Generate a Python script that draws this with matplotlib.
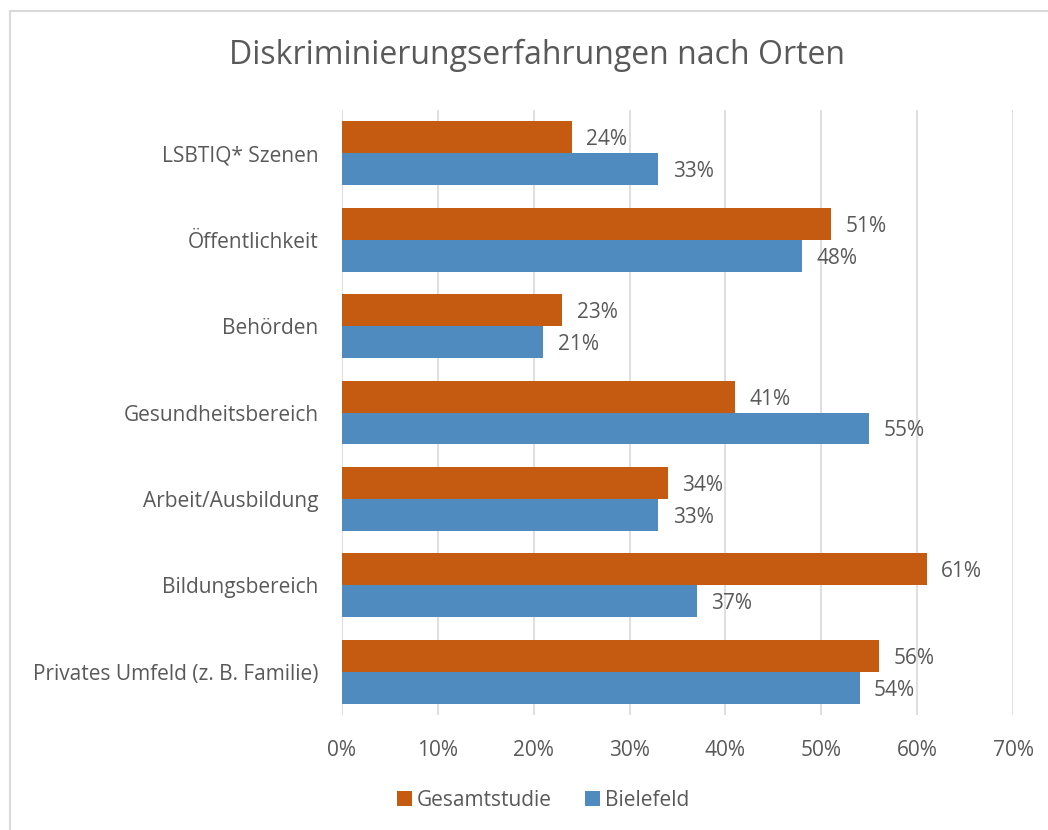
import matplotlib
matplotlib.use("Agg")
import matplotlib.pyplot as plt
from matplotlib.patches import Rectangle
import numpy as np

categories = ["LSBTIQ* Szenen", "Öffentlichkeit", "Behörden", "Gesundheitsbereich",
              "Arbeit/Ausbildung", "Bildungsbereich", "Privates Umfeld (z. B. Familie)"]
gesamtstudie = [24, 51, 23, 41, 34, 61, 56]
bielefeld = [33, 48, 21, 55, 33, 37, 54]
series_names = ["Gesamtstudie", "Bielefeld"]
xticks = [0, 10, 20, 30, 40, 50, 60, 70]

plt.rcParams['font.family'] = ['Open Sans', 'DejaVu Sans']
txt = "#595959"
c_orange = "#C55A11"
c_blue = "#4F8BBE"
fs = 15

fig = plt.figure(figsize=(10.48, 8.3), dpi=100)
fig.patches.append(Rectangle((10/1048, -0.5), 1.5, 1.5 - 11/830, transform=fig.transFigure,
                             fill=False, edgecolor="#D9D9D9", linewidth=1.5))
ax = fig.add_axes([342/1048, 1 - 715/830, 671/1048, 605/830])

n = len(categories)
y = np.arange(n)[::-1].astype(float)
h = 0.37
ax.barh(y + h/2, gesamtstudie, height=h, color=c_orange, label=series_names[0], zorder=3)
ax.barh(y - h/2, bielefeld, height=h, color=c_blue, label=series_names[1], zorder=3)

for yi, v in zip(y + h/2, gesamtstudie):
    ax.text(v + 1.5, yi, f"{v}%", va="center_baseline", ha="left", fontsize=fs, color=txt)
for yi, v in zip(y - h/2, bielefeld):
    ax.text(v + 1.5, yi, f"{v}%", va="center_baseline", ha="left", fontsize=fs, color=txt)

ax.set_xlim(0, 70)
ax.set_ylim(-0.5, n - 0.5)
ax.set_xticks(xticks)
ax.set_xticklabels([f"{t}%" for t in xticks], fontsize=fs, color=txt)
ax.set_yticks(y)
ax.set_yticklabels(categories, fontsize=fs, color=txt)
ax.tick_params(axis="x", length=0, pad=18)
ax.tick_params(axis="y", length=0, pad=17)
ax.xaxis.grid(True, color="#D9D9D9", linewidth=1.2, zorder=0)
for s in ax.spines.values():
    s.set_visible(False)

fig.text(537/1048, 1 - 55/830, "Diskriminierungserfahrungen nach Orten", ha="center", va="center",
         fontsize=23, color=txt)

leg = fig.legend(loc="center", bbox_to_anchor=(543/1048, 1 - 800/830), ncol=2, frameon=False,
                 fontsize=fs, handlelength=0.7, handleheight=0.7, handletextpad=0.25,
                 columnspacing=1.6)
for t in leg.get_texts():
    t.set_color(txt)

fig.savefig("out.png", dpi=100, facecolor="white")
